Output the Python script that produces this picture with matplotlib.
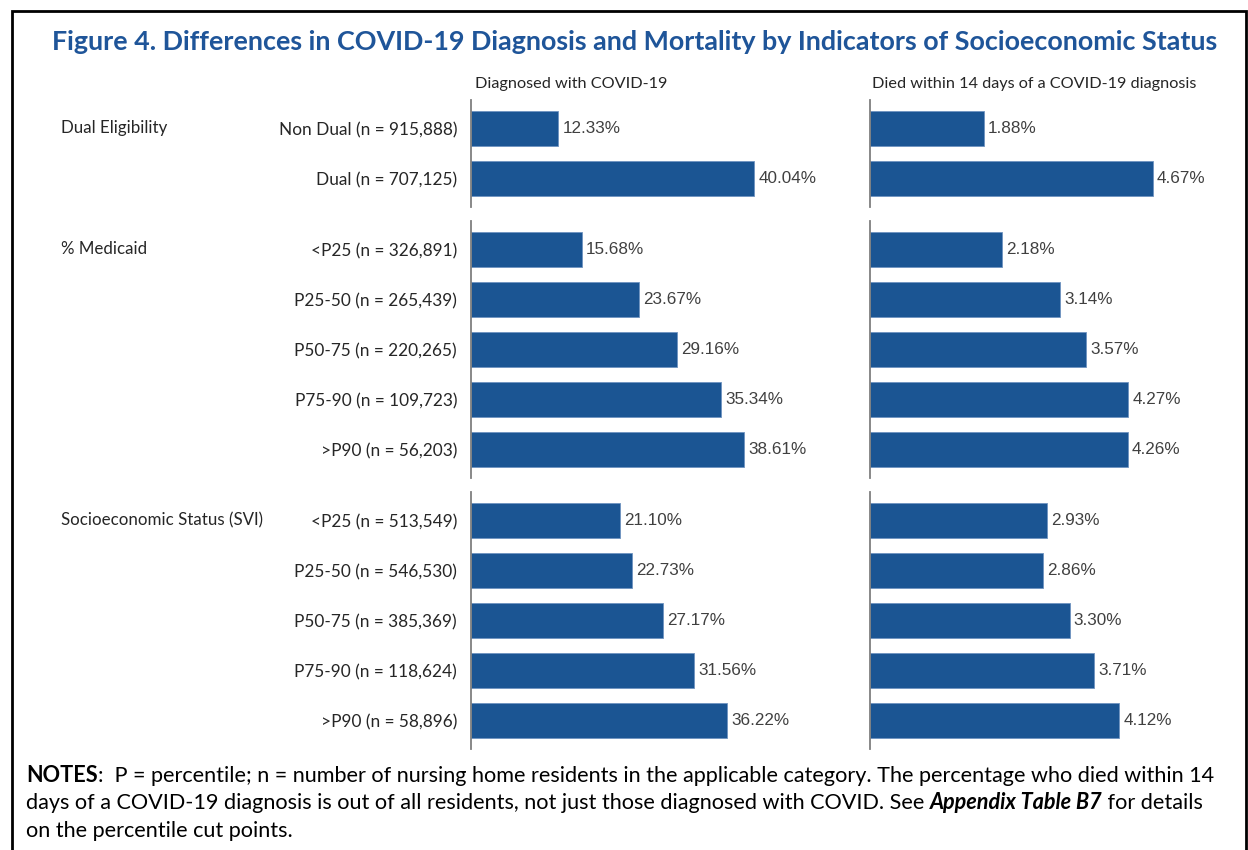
import matplotlib.pyplot as plt
import matplotlib.transforms as mtransforms
from matplotlib.patches import Rectangle

# data
groups = ["Dual Eligibility", "% Medicaid", "Socioeconomic Status (SVI)"]
dual_labels = ["Non Dual (n = 915,888)", "Dual (n = 707,125)"]
medicaid_labels = ["<P25 (n = 326,891)", "P25-50 (n = 265,439)", "P50-75 (n = 220,265)",
                   "P75-90 (n = 109,723)", ">P90 (n = 56,203)"]
svi_labels = ["<P25 (n = 513,549)", "P25-50 (n = 546,530)", "P50-75 (n = 385,369)",
              "P75-90 (n = 118,624)", ">P90 (n = 58,896)"]

dual_diag = [12.33, 40.04]
medicaid_diag = [15.68, 23.67, 29.16, 35.34, 38.61]
svi_diag = [21.10, 22.73, 27.17, 31.56, 36.22]

dual_died = [1.88, 4.67]
medicaid_died = [2.18, 3.14, 3.57, 4.27, 4.26]
svi_died = [2.93, 2.86, 3.30, 3.71, 4.12]

col_titles = ["Diagnosed with COVID-19", "Died within 14 days of a COVID-19 diagnosis"]
title = "Figure 4. Differences in COVID-19 Diagnosis and Mortality by Indicators of Socioeconomic Status"

W, H = 1248, 850
BLUE = "#1B5593"
TITLE_BLUE = "#1F5599"
TXT = "#262626"
CAL = "Lato"
ARIAL = "Liberation Sans"

fig = plt.figure(figsize=(W / 100, H / 100), dpi=100)
fig.patch.set_facecolor("white")

# layout in pixels
unit = 50.0
pad = 0.57
gap = 14
top0 = 100
panels = [(471, 360, 360 / 7.08), (870, 360, 360 / 60.5)]  # left px, width px, xmax

data = [
    (groups[0], dual_labels, dual_diag, dual_died),
    (groups[1], medicaid_labels, medicaid_diag, medicaid_died),
    (groups[2], svi_labels, svi_diag, svi_died),
]

top = top0
for gname, labels, diag, died in data:
    n = len(labels)
    h = (n - 1 + 2 * pad) * unit
    for p, (left, width, xmax) in enumerate(panels):
        ax = fig.add_axes([left / W, 1 - (top + h) / H, width / W, h / H])
        vals = diag if p == 0 else died
        bars = ax.barh(range(n), vals, height=0.69, color=BLUE, edgecolor="#6f93c0", linewidth=0.6)
        ax.bar_label(bars, labels=[f"{v:.2f}%" for v in vals], padding=3,
                     fontsize=12.3, family=ARIAL, color="#404040")
        ax.set_xlim(0, xmax)
        ax.set_ylim(n - 1 + pad, -pad)
        for s in ["top", "right", "bottom"]:
            ax.spines[s].set_visible(False)
        ax.spines["left"].set_color("#7f7f7f")
        ax.spines["left"].set_linewidth(1.3)
        ax.set_xticks([])
        ax.set_facecolor("none")
        if p == 0:
            ax.set_yticks(range(n))
            ax.set_yticklabels(labels, fontsize=12.4, family=CAL, color=TXT)
            ax.tick_params(axis="y", length=0, pad=10)
            trans = mtransforms.blended_transform_factory(fig.transFigure, ax.transData)
            ax.text(61 / W, 0, gname, transform=trans, ha="left", va="center",
                    fontsize=12.2, family=CAL, color=TXT)
        else:
            ax.set_yticks([])
    top += h + gap

# column headers
fig.text(475 / W, 1 - 84 / H, col_titles[0], ha="left", va="center", fontsize=11.7, family=CAL, color=TXT)
fig.text(872 / W, 1 - 84 / H, col_titles[1], ha="left", va="center", fontsize=11.7, family=CAL, color=TXT)

# title
fig.text(635 / W, 1 - 42 / H, title, ha="center", va="center", fontsize=19.4,
         family=CAL, weight="bold", color=TITLE_BLUE)

# notes
nsize = 15.6
t = fig.text(26 / W, 1 - 775 / H, "NOTES", ha="left", va="center", fontsize=nsize, family=CAL,
             weight="bold", color="black")
plt.annotate(":  P = percentile; n = number of nursing home residents in the applicable category. "
             "The percentage who died within 14", xy=(1, 0), xycoords=t, va="bottom",
             fontsize=nsize, family=CAL, color="black", annotation_clip=False)
t2 = fig.text(26 / W, 1 - 803 / H,
              "days of a COVID-19 diagnosis is out of all residents, not just those diagnosed with COVID. See ",
              ha="left", va="center", fontsize=nsize, family=CAL, color="black")
t3 = plt.annotate("Appendix Table B7", xy=(1, 0), xycoords=t2, va="bottom", fontsize=nsize,
                  family=CAL, weight="bold", style="italic", color="black", annotation_clip=False)
plt.annotate(" for details", xy=(1, 0), xycoords=t3, va="bottom", fontsize=nsize,
             family=CAL, color="black", annotation_clip=False)
fig.text(26 / W, 1 - 831 / H, "on the percentile cut points.", ha="left", va="center",
         fontsize=nsize, family=CAL, color="black")

# frame around the figure
fig.patches.append(Rectangle((12 / W, -0.02), (1246 - 12) / W, 1.02 - 11 / H,
                             transform=fig.transFigure, fill=False, edgecolor="black",
                             linewidth=2, clip_on=False))

fig.savefig("out.png", dpi=100)
